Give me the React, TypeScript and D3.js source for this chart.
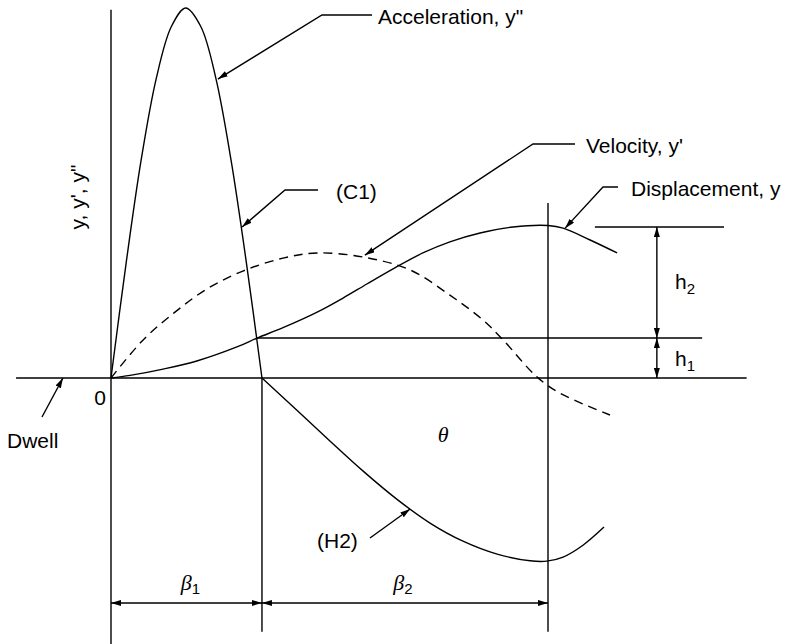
import * as d3 from "d3";

// angle theta (deg) and ordinate values
const beta1 = 38;
const beta2 = 72;
const h1 = 10.8;
const h2 = 30;

const accC1Theta = [0, 3.8, 7.6, 11.4, 15.2, 18.8, 22.6, 26.4, 30.2, 34.1, 38];
const accC1Value = [0, 31, 59, 81, 95, 100, 95, 81, 59, 31, 0];

const accH2Theta = [38, 46.8, 55.1, 63.4, 72, 80.3, 88.6, 97.2, 105.5, 109.7, 113.8, 118.8, 124.1];
const accH2Value = [0, -8.7, -17, -25.1, -32.8, -39.2, -44.1, -47.6, -49.4, -49.5, -48.4, -45.2, -40.3];

const dispTheta = [0, 4.8, 13.1, 21.6, 31.7, 36.8, 43.3, 51.9, 58.4, 64.4, 71, 78.5, 85.3, 92.9, 101.2, 110, 113.8, 120.6, 127.4];
const dispValue = [0, 0.7, 2.4, 4.6, 8.4, 10.8, 13.6, 17.8, 21.6, 25.4, 29.5, 33.8, 36.8, 39.2, 40.8, 41.2, 40.5, 37.3, 33.8];

const velTheta = [0, 8.1, 16.1, 24.2, 33.2, 43.3, 51.9, 63.4, 75.3, 85.3, 93.6, 98.7, 107.2, 113, 125.6];
const velValue = [0, 10.3, 17.8, 24.1, 28.9, 32.4, 33.8, 32.7, 29.2, 22.4, 15.7, 10.3, 0.3, -4.1, -10];

const W = 787;
const H = 644;

const x = d3.scaleLinear().domain([0, 110]).range([111, 548]);
const y = d3.scaleLinear().domain([0, 100]).range([378, 8]);

type P = [number, number];
const zip = (t: number[], v: number[]): P[] => t.map((d, i) => [d, v[i]]);

const line = d3
  .line<P>()
  .x((d) => x(d[0]))
  .y((d) => y(d[1]))
  .curve(d3.curveCatmullRom.alpha(0.5));

// leader lines: label, tip on the curve (data units), elbow + label position (px)
const leaders = [
  { label: 'Acceleration, y"', tip: [26.9, 80.8], path: [[372, 15], [322, 15]], tx: 378, ty: 24 },
  { label: "(C1)", tip: [33.0, 40.8], path: [[318, 190], [285, 190]], tx: 336, ty: 199 },
  { label: "Velocity, y'", tip: [63.9, 33.2], path: [[575, 144], [533, 144]], tx: 586, ty: 153 },
  { label: "Displacement, y", tip: [114.3, 40.5], path: [[618, 187], [603, 187]], tx: 631, ty: 196 },
  { label: "(H2)", tip: [75.3, -35.4], path: [[370, 538]], tx: 317, ty: 548 },
  { label: "Dwell", tip: [-12.1, 0], path: [[42, 417]], tx: 7, ty: 448 },
];

const font = "'Liberation Sans', Arial, Helvetica, sans-serif";
const serif = "'Liberation Serif', 'Times New Roman', serif";

export default function App() {
  const x0 = x(0);
  const y0 = y(0);
  const xb1 = x(beta1);
  const xb2 = x(beta1 + beta2);
  const yh1 = y(h1);
  const yh2 = y(h1 + h2);
  const yBottom = y(-68.6);
  const yDim = y(-60.8);
  const xDimH = x(137.4);
  const stroke = { stroke: "#000", strokeWidth: 1.4, fill: "none" };

  return (
    <svg
      width={W}
      height={H}
      viewBox={`0 0 ${W} ${H}`}
      style={{ position: "absolute", left: 0, top: 0, background: "#fff" }}
      fontFamily={font}
      fontSize={21}
    >
      <defs>
        <marker
          id="ah"
          viewBox="0 0 10 6"
          refX={10}
          refY={3}
          markerWidth={10}
          markerHeight={6}
          markerUnits="userSpaceOnUse"
          orient="auto-start-reverse"
        >
          <path d="M0,0L10,3L0,6Z" fill="#000" />
        </marker>
      </defs>

      {/* axes */}
      <line x1={x(-23.9)} x2={x(160)} y1={y0} y2={y0} {...stroke} />
      <line x1={x0} x2={x0} y1={y(99.5)} y2={y(-72)} {...stroke} />

      {/* boundary verticals */}
      <line x1={xb1} x2={xb1} y1={y0} y2={yBottom} {...stroke} />
      <line x1={xb2} x2={xb2} y1={y(47.3)} y2={yBottom} {...stroke} />

      {/* rise levels */}
      <line x1={x(36.6)} x2={x(148.8)} y1={yh1} y2={yh1} {...stroke} />
      <line x1={x(121.8)} x2={x(154.3)} y1={yh2} y2={yh2} {...stroke} />
      <line x1={xDimH} x2={xDimH} y1={yh2} y2={yh1} {...stroke} markerStart="url(#ah)" markerEnd="url(#ah)" />
      <line x1={xDimH} x2={xDimH} y1={yh1} y2={y0} {...stroke} markerStart="url(#ah)" markerEnd="url(#ah)" />

      {/* beta dimensions */}
      <line x1={x0} x2={xb1} y1={yDim} y2={yDim} {...stroke} markerStart="url(#ah)" markerEnd="url(#ah)" />
      <line x1={xb1} x2={xb2} y1={yDim} y2={yDim} {...stroke} markerStart="url(#ah)" markerEnd="url(#ah)" />

      {/* curves */}
      <path d={line(zip(accC1Theta, accC1Value)) ?? ""} {...stroke} />
      <path d={line(zip(accH2Theta, accH2Value)) ?? ""} {...stroke} />
      <path d={line(zip(dispTheta, dispValue)) ?? ""} {...stroke} />
      <path d={line(zip(velTheta, velValue)) ?? ""} {...stroke} strokeDasharray="9,6" />

      {/* leaders */}
      {leaders.map((l) => {
        const pts = [...l.path, [x(l.tip[0]), y(l.tip[1])]];
        return (
          <g key={l.label}>
            <polyline points={pts.map((p) => p.join(",")).join(" ")} {...stroke} markerEnd="url(#ah)" />
            <text x={l.tx} y={l.ty}>
              {l.label}
            </text>
          </g>
        );
      })}

      {/* axis texts */}
      <text x={x0 - 5} y={y0 + 27} textAnchor="end">0</text>
      <text transform={`translate(85,197) rotate(-90)`} textAnchor="middle">y, y', y"</text>
      <text x={x(83.6)} y={y0 + 64} textAnchor="middle" fontFamily={serif} fontStyle="italic" fontSize={22}>
        θ
      </text>

      <text x={(x0 + xb1) / 2 + 4} y={590} textAnchor="middle" fontFamily={serif} fontStyle="italic" fontSize={22}>
        β<tspan fontFamily={font} fontStyle="normal" fontSize={15} dy={4}>1</tspan>
      </text>
      <text x={(xb1 + xb2) / 2 - 2} y={590} textAnchor="middle" fontFamily={serif} fontStyle="italic" fontSize={22}>
        β<tspan fontFamily={font} fontStyle="normal" fontSize={15} dy={4}>2</tspan>
      </text>

      <text x={675} y={289}>
        h<tspan fontSize={15} dy={5}>2</tspan>
      </text>
      <text x={675} y={366}>
        h<tspan fontSize={15} dy={5}>1</tspan>
      </text>
    </svg>
  );
}
